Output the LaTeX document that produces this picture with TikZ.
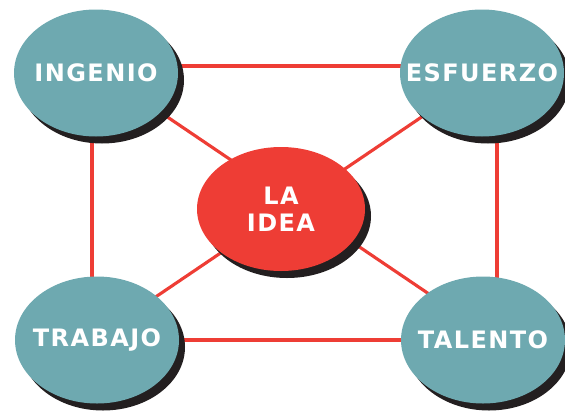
\documentclass[tikz,border=0pt]{standalone}
\usepackage{fontspec}
\newfontfamily\blockfont[LetterSpace=6]{DejaVu Sans}
\usetikzlibrary{shapes.geometric,shadows}
\definecolor{ideared}{HTML}{EE3D35}
\definecolor{bubbleteal}{HTML}{6EA9B0}
\definecolor{shadowgray}{HTML}{231F20}
\tikzset{
	bubble/.style={ellipse, fill=bubbleteal, inner sep=0pt, minimum width=164pt, minimum height=127pt,
		drop shadow={shadow xshift=6pt, shadow yshift=-7pt, fill=shadowgray, opacity=1}},
	bubbletext/.style={text=white, font=\blockfont\bfseries\fontsize{24}{27}\selectfont, align=center, inner sep=0pt},
	link/.style={line width=1.1mm, color=ideared}
}

\begin{document}
\begin{tikzpicture}[x=1pt, y=-1pt]
			%%%%% START %%%%%
			
			\useasboundingbox (0, 0) rectangle (565, 410);
			
			\coordinate (c1) at (92, 66);
			\coordinate (c2) at (497, 66);
			\coordinate (c3) at (92, 340);
			\coordinate (c4) at (497, 340);
			
			\draw[link] (c1) -- (c2) -- (c4) -- (c3) -- cycle;
			\draw[link] (c1) -- (c4);
			\draw[link] (c2) -- (c3);
			
			\node[bubble, label={[bubbletext]center:INGENIO}] (ingenio) at (96, 73) {};
			\node[bubble, label={[bubbletext]center:ESFUERZO}] (esfuerzo) at (482, 73) {};
			\node[bubble, label={[bubbletext]center:TRABAJO}] (trabajo) at (97, 340) {};
			\node[bubble, label={[bubbletext]center:TALENTO}] (talento) at (483, 340) {};
			
			\node[bubble, fill=ideared, minimum width=168pt, minimum height=124pt,
				label={[bubbletext]center:LA\\IDEA}] (idea) at (281, 209) {};
			
			%%%%% END %%%%%
\end{tikzpicture}
\end{document}
